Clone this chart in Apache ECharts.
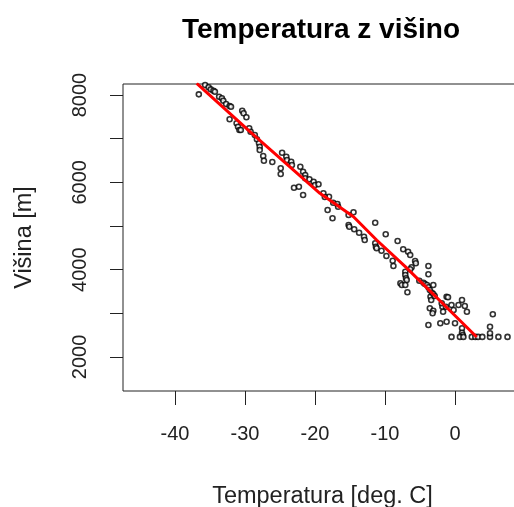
<!DOCTYPE html>
<html>
<head>
<meta charset="utf-8">
<script src="https://cdn.jsdelivr.net/npm/echarts@6/dist/echarts.min.js"></script>
<style>
  html, body { margin: 0; padding: 0; background: #fff; }
  #chart { width: 514px; height: 507px; }
</style>
</head>
<body>
<div id="chart"></div>
<script>
var temps = [-36.6, -35.7, -35.2, -34.9, -34.5, -34.3, -33.7, -33.3, -33.1, -32.7,
  -32.2, -32.0, -32.2, -30.4, -30.2, -29.8, -31.2, -31.0, -30.8, -30.6,
  -29.4, -29.2, -28.6, -28.3, -28.0, -27.9, -27.9, -27.4, -27.3, -26.1,
  -24.7, -24.1, -24.0, -23.4, -23.3, -24.9, -24.9, -22.1, -21.7, -21.4,
  -21.4, -20.8, -20.2, -20.0, -19.5, -23.0, -22.3, -21.7, -18.8, -18.0,
  -17.4, -16.8, -18.2, -17.5, -18.6, -16.7, -15.2, -14.5, -15.2, -15.1,
  -14.4, -13.7, -13.0, -12.9, -11.4, -11.4, -11.3, -11.2, -10.5, -9.9,
  -9.8, -8.2, -7.4, -6.7, -8.9, -8.8, -6.4, -5.7, -5.6, -6.2,
  -6.4, -7.1, -7.1, -7.0, -6.9, -7.8, -7.6, -7.1, -6.8, -3.8,
  -3.8, -5.1, -4.5, -4.3, -4.0, -3.8, -3.6, -3.3, -3.5, -3.4,
  -1.2, -1.8, -3.6, -3.1, -3.1, -2.9, -3.1, -3.2, -1.9, -1.3,
  -1.7, -1.0, -0.5, -0.2, 0.5, 1.0, 1.4, 1.7, -2.1, -1.2,
  -3.8, 0.0, 1.0, 1.0, 1.1, -0.5, 0.7, 1.2, 2.4, 2.9,
  3.3, 3.9, 5.0, 6.2, 7.5, 5.4, 5.0, 5.0];
var heights = [8015, 8230, 8176, 8130, 8098, 8075, 7961, 7924, 7869, 7794,
  7748, 7732, 7443, 7640, 7581, 7489, 7352, 7274, 7198, 7198,
  7237, 7159, 7084, 6985, 6894, 6816, 6740, 6603, 6495, 6466,
  6678, 6587, 6511, 6472, 6397, 6321, 6191, 6358, 6243, 6168,
  6092, 6069, 6014, 5939, 5955, 5877, 5900, 5710, 5749, 5671,
  5533, 5504, 5366, 5176, 5664, 5442, 5252, 5314, 5023, 4984,
  4924, 4847, 4755, 4679, 5075, 4604, 4526, 4489, 4434, 4810,
  4313, 4656, 4466, 4411, 4205, 4084, 4336, 4198, 4146, 4054,
  4008, 3953, 3878, 3802, 3763, 3688, 3649, 3649, 3482, 4084,
  3894, 3747, 3701, 3672, 3649, 3596, 3534, 3472, 3381, 3305,
  3381, 3152, 3115, 3649, 3443, 3397, 3060, 3001, 3230, 3152,
  3037, 3367, 3191, 3076, 3191, 3305, 3168, 3037, 2772, 2808,
  2733, 2772, 2657, 2556, 2504, 2460, 2460, 2460, 2460, 2460,
  2460, 2460, 2460, 2460, 2460, 2978, 2694, 2543];

// smoothed fit (red line)
var fitTemps = [-36.9, -29.3, -19.3, -14.5, -11.2, -7.1, 3.1];
var fitHeights = [8268, 7159, 5749, 5213, 4679, 4068, 2458];

var xTicks = [-40, -30, -20, -10, 0];
var yTicks = [2000, 3000, 4000, 5000, 6000, 7000, 8000];
var yLabels = [2000, 4000, 6000, 8000];

var points = temps.map(function (t, i) { return [t, heights[i]]; });
var fit = fitTemps.map(function (t, i) { return [t, fitHeights[i]]; });

var myChart = echarts.init(document.getElementById('chart'));
var font = 'Liberation Sans, Arial, sans-serif';
var option = {
  animation: false,
  backgroundColor: '#fff',
  title: {
    text: 'Temperatura z višino',
    left: 182,
    top: 16,
    padding: 0,
    textStyle: { fontFamily: font, fontSize: 28, fontWeight: 'bold', color: '#000' }
  },
  grid: {
    left: 123, top: 84, right: -8, bottom: 116,
    outerBoundsMode: 'none',
    containLabel: false,
    show: true, borderColor: '#222', borderWidth: 1, backgroundColor: 'transparent'
  },
  xAxis: {
    type: 'value',
    min: -47.43, max: 9.57,
    name: 'Temperatura [deg. C]',
    nameLocation: 'middle',
    nameGap: 94,
    nameTextStyle: { fontFamily: font, fontSize: 23.5, color: '#222' },
    axisLine: { show: false, onZero: false },
    splitLine: { show: false },
    axisTick: { show: true, inside: false, length: 14, customValues: xTicks, lineStyle: { color: '#222', width: 1 } },
    axisLabel: { customValues: xTicks, margin: 33, fontFamily: font, fontSize: 20, color: '#222' }
  },
  yAxis: {
    type: 'value',
    min: 1221, max: 8252,
    name: 'Višina [m]',
    nameLocation: 'middle',
    nameGap: 86,
    nameTextStyle: { fontFamily: font, fontSize: 23.5, color: '#222' },
    axisLine: { show: false, onZero: false },
    splitLine: { show: false },
    axisTick: { show: true, length: 13, customValues: yTicks, lineStyle: { color: '#222' } },
    axisLabel: {
      customValues: yLabels, rotate: 90, margin: 33,
      formatter: function (v) { return String(v); },
      fontFamily: font, fontSize: 20, color: '#222'
    }
  },
  series: [
    {
      type: 'scatter',
      data: points,
      symbol: 'circle',
      symbolSize: 5,
      itemStyle: { color: '#fff', borderColor: '#000', borderWidth: 1.6 }
    },
    {
      type: 'line',
      data: fit,
      symbol: 'none',
      clip: true,
      lineStyle: { color: '#ff0000', width: 3 }
    }
  ]
};
myChart.setOption(option);
</script>
</body>
</html>
